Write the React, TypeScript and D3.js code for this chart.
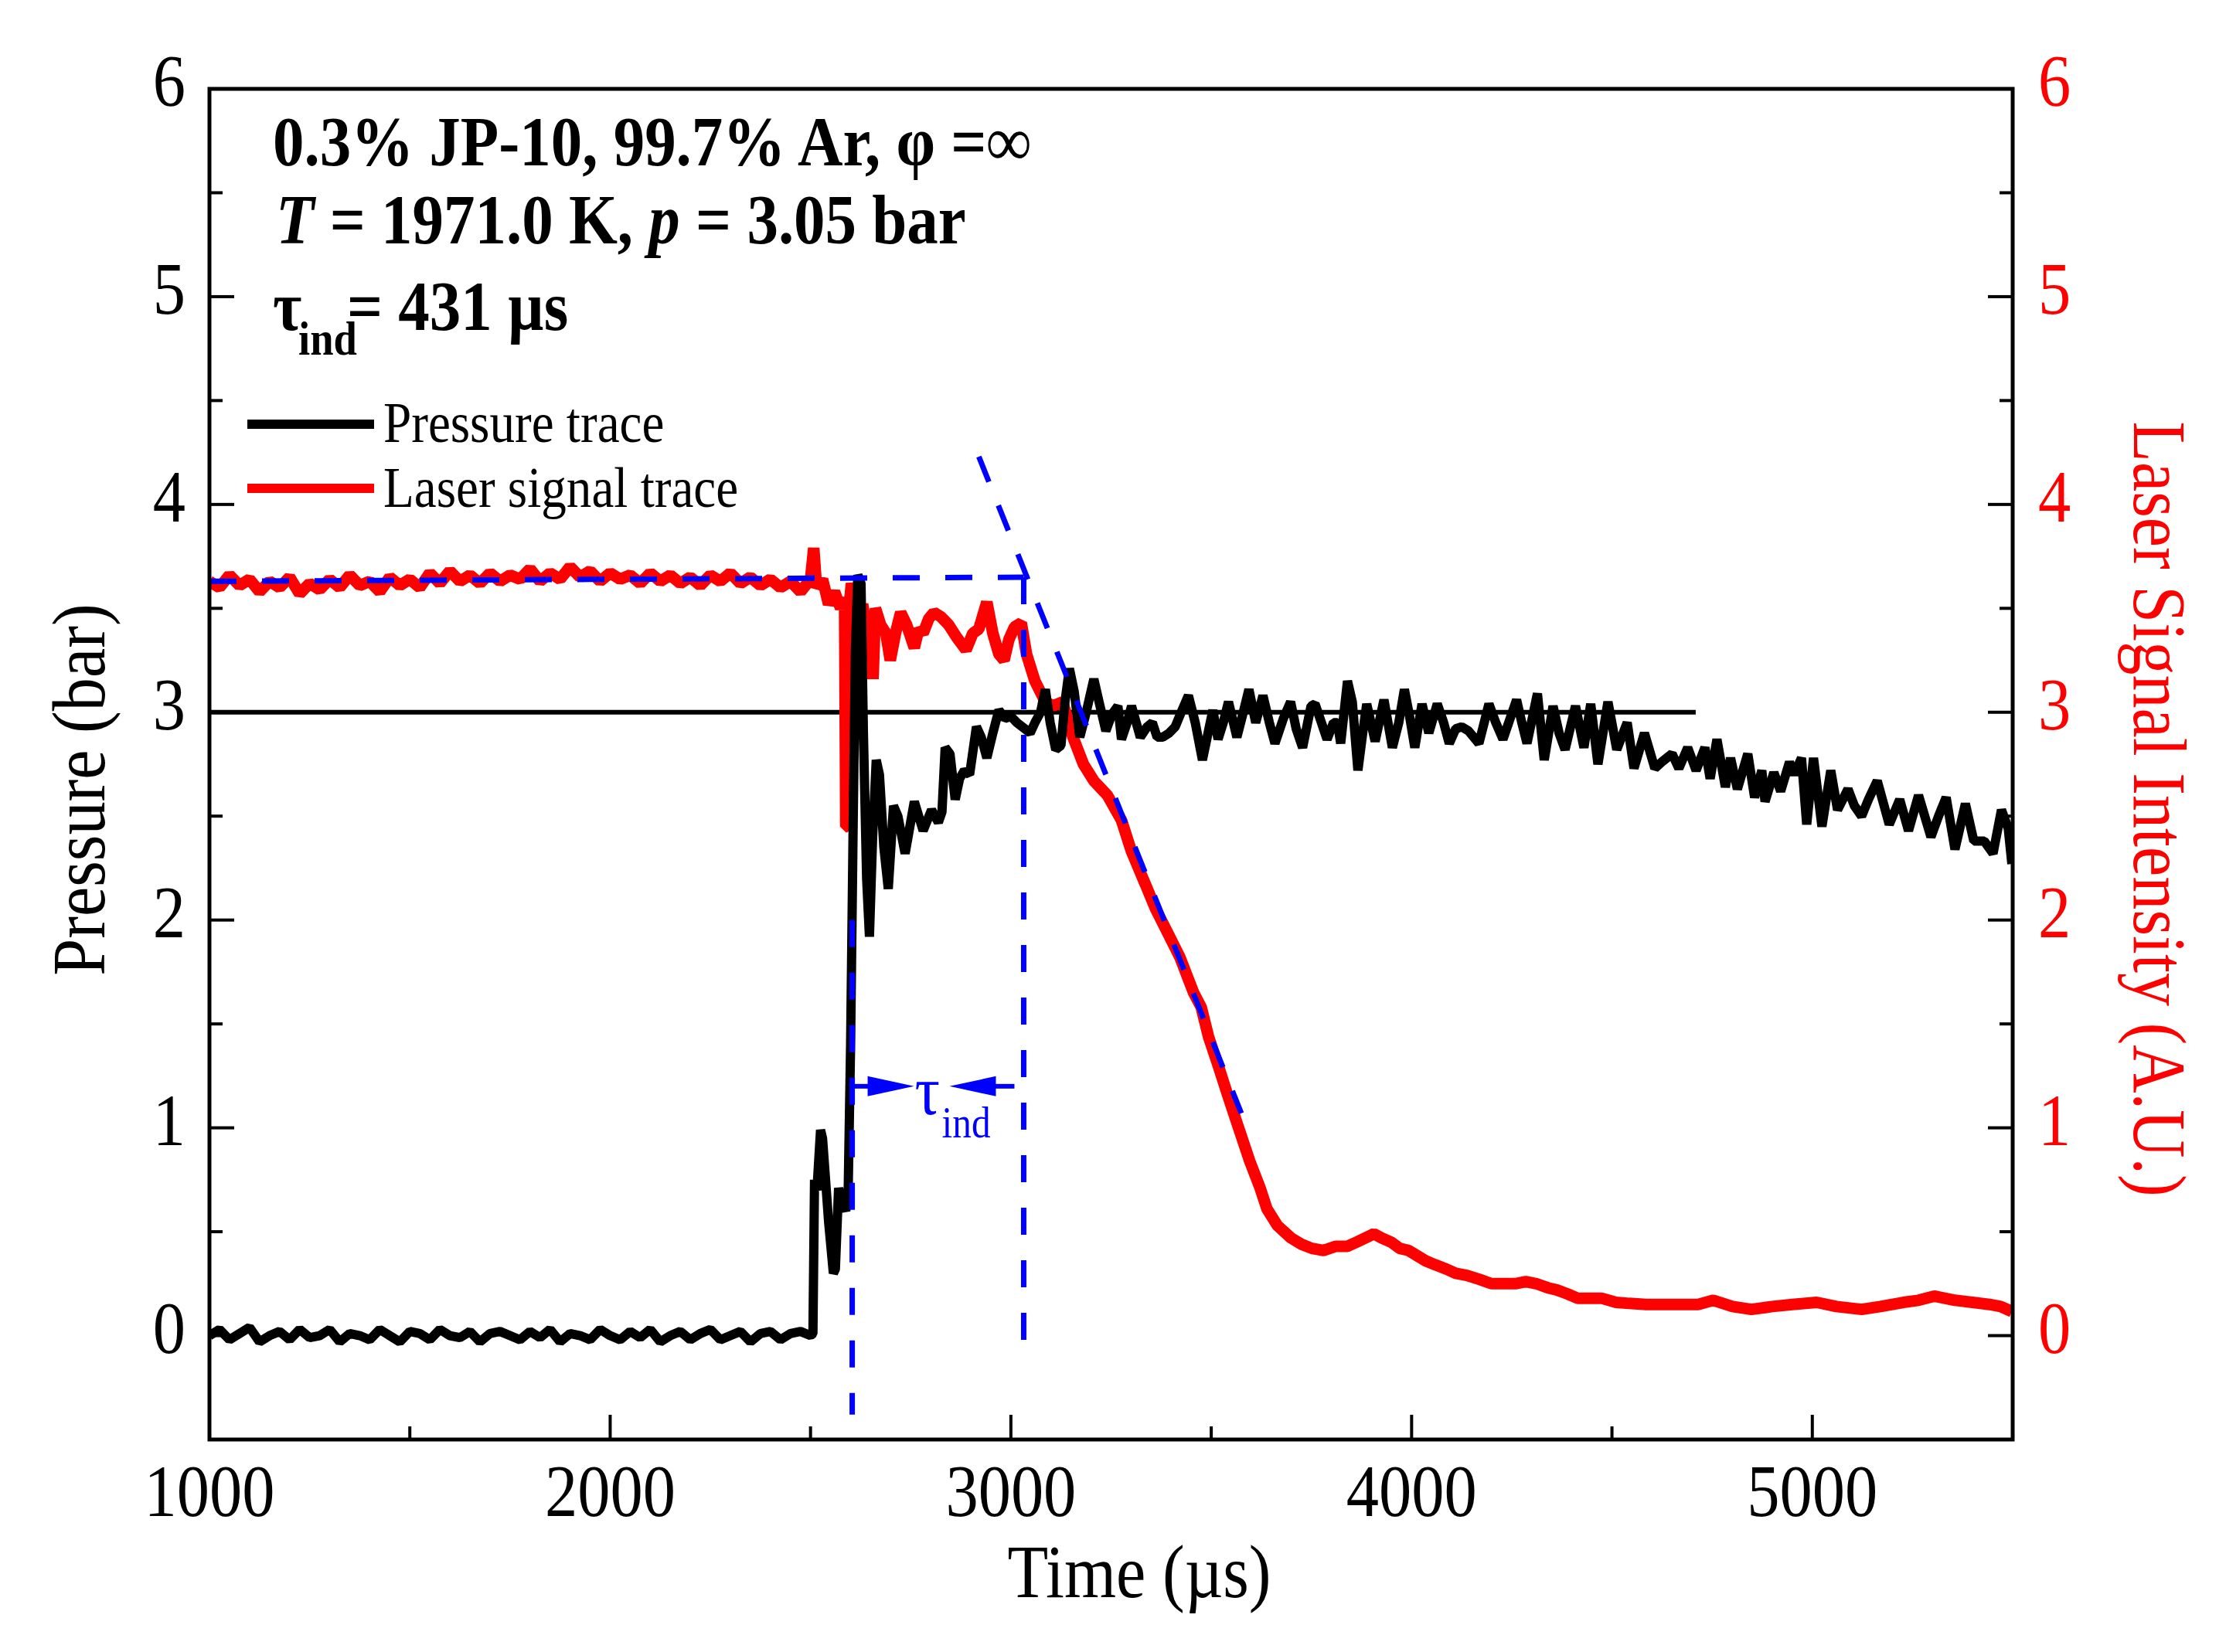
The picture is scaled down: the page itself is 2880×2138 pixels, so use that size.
import React from 'react';
import * as d3 from 'd3';

// ---- data ----
const xTicks = [1000, 2000, 3000, 4000, 5000];
const yTicks = [0, 1, 2, 3, 4, 5, 6];

// pressure trace (time µs, bar)
const pressureBaseline: [number, number][] = [
  [1000, 0.0], [1025, 0.03], [1050, -0.02], [1075, 0.01], [1100, 0.04], [1125, -0.03], [1150, 0.0],
  [1175, 0.02], [1200, -0.02], [1225, 0.03], [1250, -0.01], [1275, 0.0], [1300, 0.03], [1325, -0.03],
  [1350, 0.01], [1375, 0.0], [1400, -0.02], [1425, 0.03], [1450, 0.0], [1475, -0.03], [1500, 0.02],
  [1525, 0.01], [1550, -0.02], [1575, 0.03], [1600, 0.0], [1625, -0.01], [1650, 0.02], [1675, -0.03],
  [1700, 0.01], [1725, 0.02], [1750, 0.0], [1775, -0.02], [1800, 0.02], [1825, -0.01], [1850, 0.03],
  [1875, -0.03], [1900, 0.01], [1925, 0.0], [1950, -0.02], [1975, 0.03], [2000, 0.0], [2025, -0.02],
  [2050, 0.02], [2075, -0.01], [2100, 0.03], [2125, -0.03], [2150, 0.0], [2175, 0.02], [2200, -0.02],
  [2225, 0.01], [2250, 0.03], [2275, -0.02], [2300, 0.0], [2325, 0.02], [2350, -0.03], [2375, 0.01],
  [2400, 0.02], [2425, -0.02], [2450, 0.01], [2475, 0.02], [2500, 0.0],
];

const pressureShock: [number, number][] = [
  [2506, 0.01], [2510, 0.75], [2516, 0.7], [2525, 0.99], [2530, 0.95], [2545, 0.55], [2557, 0.3],
  [2562, 0.32], [2570, 0.71], [2578, 0.64], [2588, 0.6], [2594, 0.7], [2600, 1.4], [2606, 2.4],
  [2612, 3.3], [2618, 3.66], [2626, 3.62], [2632, 2.9], [2640, 2.2], [2647, 1.92], [2655, 2.4],
  [2664, 2.77], [2672, 2.7], [2683, 2.35], [2694, 2.15], [2707, 2.55], [2718, 2.5], [2736, 2.32],
  [2759, 2.57], [2770, 2.5], [2781, 2.43], [2802, 2.53], [2819, 2.47], [2828, 2.52], [2836, 2.83],
  [2848, 2.8], [2861, 2.58], [2872, 2.68], [2884, 2.72], [2897, 2.7], [2914, 2.93], [2926, 2.88],
  [2940, 2.78], [2955, 2.9], [2970, 3.01], [2985, 2.97], [3000, 2.98], [3015, 2.95], [3035, 2.92],
  [3048, 2.9], [3060, 2.95], [3074, 3.0], [3086, 3.11], [3098, 2.95], [3112, 2.82], [3125, 2.84],
  [3135, 3.05], [3146, 3.21], [3158, 3.1], [3172, 2.88], [3188, 3.0], [3207, 3.16], [3220, 3.05],
  [3237, 2.91], [3252, 2.99], [3267, 3.03], [3276, 2.87], [3290, 2.95], [3301, 3.03], [3323, 2.88],
  [3340, 2.93], [3353, 2.95], [3365, 2.88], [3379, 2.88], [3395, 2.9], [3410, 2.93], [3425, 3.0],
  [3443, 3.08], [3460, 2.95], [3478, 2.77], [3492, 2.9], [3504, 3.01], [3517, 2.87], [3530, 2.95],
  [3543, 3.05], [3564, 2.88], [3580, 3.0], [3594, 3.11], [3611, 2.95], [3629, 3.08], [3645, 2.95],
  [3659, 2.85], [3680, 2.97], [3698, 3.05], [3712, 2.92], [3728, 2.83], [3749, 3.03],
];

const pressurePlateau: [number, number][] = [
  [3759, 3.04], [3775, 2.95], [3789, 2.87], [3805, 2.95], [3815, 2.95], [3823, 2.85], [3840, 3.15],
  [3852, 3.05], [3866, 2.72], [3878, 2.9], [3888, 3.04], [3909, 2.86], [3931, 3.06], [3952, 2.83],
  [3968, 2.95], [3982, 3.11], [3995, 2.98], [4008, 2.83], [4026, 3.04], [4043, 2.9], [4064, 3.04],
  [4080, 2.95], [4094, 2.85], [4110, 2.92], [4125, 2.93], [4142, 2.91], [4168, 2.85], [4193, 3.04],
  [4210, 2.95], [4228, 2.87], [4262, 3.06], [4275, 2.95], [4288, 2.85], [4314, 3.09], [4331, 2.77],
  [4353, 3.03], [4368, 2.9], [4383, 2.82], [4409, 3.03], [4430, 2.83], [4447, 3.04], [4465, 2.75],
  [4490, 3.05], [4512, 2.82], [4538, 2.95], [4555, 2.73], [4581, 2.9], [4607, 2.73],
];

const pressureTail: [number, number][] = [
  [4624, 2.76], [4650, 2.8], [4667, 2.73], [4689, 2.83], [4710, 2.72], [4732, 2.83], [4745, 2.68],
  [4762, 2.87], [4783, 2.64], [4796, 2.78], [4813, 2.63], [4839, 2.8], [4856, 2.59], [4874, 2.72],
  [4882, 2.57], [4904, 2.71], [4921, 2.62], [4943, 2.76], [4955, 2.7], [4973, 2.78], [4986, 2.46],
  [5003, 2.78], [5024, 2.45], [5046, 2.72], [5063, 2.53], [5089, 2.63], [5105, 2.55], [5123, 2.5],
  [5140, 2.58], [5162, 2.67], [5192, 2.46], [5218, 2.58], [5240, 2.43], [5265, 2.6], [5296, 2.4],
  [5315, 2.5], [5334, 2.59], [5356, 2.34], [5382, 2.56], [5403, 2.38], [5429, 2.38], [5451, 2.32],
  [5472, 2.53], [5489, 2.44], [5498, 2.27],
];

// laser signal trace (time µs, A.U.)
const laserFlat: [number, number][] = [
  [1000, 3.63], [1025, 3.6], [1050, 3.66], [1075, 3.61], [1100, 3.64], [1125, 3.58], [1150, 3.63],
  [1175, 3.6], [1200, 3.65], [1225, 3.57], [1250, 3.62], [1275, 3.59], [1300, 3.64], [1325, 3.6],
  [1350, 3.66], [1375, 3.61], [1400, 3.63], [1425, 3.58], [1450, 3.65], [1475, 3.61], [1500, 3.64],
  [1525, 3.6], [1550, 3.67], [1575, 3.62], [1600, 3.68], [1625, 3.63], [1650, 3.66], [1675, 3.62],
  [1700, 3.67], [1725, 3.63], [1750, 3.66], [1775, 3.64], [1800, 3.69], [1825, 3.63], [1850, 3.67],
  [1875, 3.64], [1900, 3.7], [1925, 3.65], [1950, 3.68], [1975, 3.63], [2000, 3.67], [2025, 3.64],
  [2050, 3.66], [2075, 3.62], [2100, 3.67], [2125, 3.63], [2150, 3.66], [2175, 3.62], [2200, 3.65],
  [2225, 3.61], [2250, 3.66], [2275, 3.63], [2300, 3.67], [2325, 3.62], [2350, 3.65], [2375, 3.61],
  [2400, 3.64], [2425, 3.6], [2450, 3.63], [2475, 3.58], [2500, 3.64], [2508, 3.79], [2515, 3.6],
  [2530, 3.64], [2545, 3.52], [2560, 3.58], [2575, 3.5],
];

const laserDrop: [number, number][] = [
  [2585, 3.55], [2588, 2.45], [2592, 2.45], [2596, 3.5], [2602, 3.62], [2610, 3.55], [2620, 3.45],
  [2630, 3.52], [2640, 3.4], [2650, 3.45], [2656, 3.16], [2662, 3.5], [2675, 3.42], [2688, 3.38],
  [2699, 3.25], [2712, 3.38], [2725, 3.48], [2740, 3.42], [2759, 3.31], [2770, 3.4], [2781, 3.38],
  [2795, 3.45], [2808, 3.48], [2825, 3.46], [2845, 3.42], [2865, 3.36], [2888, 3.3], [2905, 3.38],
  [2920, 3.4], [2940, 3.53], [2955, 3.38], [2970, 3.28], [2983, 3.25], [2995, 3.35], [3009, 3.41],
  [3026, 3.43], [3039, 3.28], [3060, 3.15], [3086, 3.05], [3105, 3.03], [3129, 3.05], [3155, 2.88],
  [3181, 2.75], [3207, 2.67], [3241, 2.6], [3276, 2.48], [3301, 2.33], [3336, 2.17], [3362, 2.05],
  [3396, 1.92], [3422, 1.82], [3456, 1.65], [3475, 1.58], [3493, 1.44], [3519, 1.29], [3544, 1.14],
  [3570, 0.99], [3596, 0.84], [3622, 0.71], [3639, 0.61], [3665, 0.53], [3699, 0.47],
];

const laserTail: [number, number][] = [
  [3725, 0.44], [3751, 0.42], [3780, 0.41], [3811, 0.43], [3840, 0.43], [3863, 0.45], [3906, 0.49],
  [3925, 0.47], [3949, 0.45], [3970, 0.42], [3992, 0.41], [4035, 0.36], [4060, 0.34], [4087, 0.32],
  [4110, 0.3], [4138, 0.29], [4170, 0.27], [4199, 0.25], [4230, 0.25], [4259, 0.25], [4285, 0.26],
  [4311, 0.25], [4340, 0.23], [4362, 0.22], [4390, 0.2], [4414, 0.18], [4445, 0.18], [4474, 0.18],
  [4510, 0.16], [4543, 0.155], [4585, 0.15], [4629, 0.15], [4670, 0.15], [4715, 0.15], [4753, 0.17],
  [4801, 0.14], [4848, 0.126], [4900, 0.14], [4950, 0.15], [5011, 0.16], [5060, 0.14], [5123, 0.126],
  [5170, 0.14], [5227, 0.16], [5265, 0.17], [5304, 0.19], [5330, 0.18], [5356, 0.17], [5400, 0.16],
  [5442, 0.15], [5470, 0.14], [5498, 0.116],
];

// guide lines used to mark the induction time
const refPressure = { from: 1000, to: 4709, value: 3.0 };
const baseGuide: [number, number][] = [[1000, 3.63], [3032, 3.65]];
const slopeGuide: [number, number][] = [[2920, 4.23], [3575, 1.07]];
const onsetGuide: [number, number][] = [[2604, 2.0], [2604, -0.38]];
const endGuide: [number, number][] = [[3032, 3.65], [3032, -0.06]];
const tauLevel = 1.2;

const W = 2880;
const H = 2138;
const FONT = "'Liberation Serif', 'Times New Roman', Times, serif";
const SQ = 0.88; // text in the reference is slightly condensed

const Txt: React.FC<{
  x: number; y: number; size: number; rotate?: number; anchor?: string;
  fill?: string; weight?: string; sq?: number; children: React.ReactNode;
}> = ({ x, y, size, rotate = 0, anchor = 'start', fill = '#000', weight = 'normal', sq = SQ, children }) => (
  <text
    transform={`translate(${x},${y}) rotate(${rotate}) scale(${sq},1)`}
    textAnchor={anchor}
    fontSize={size}
    fontFamily={FONT}
    fontWeight={weight}
    fill={fill}
  >
    {children}
  </text>
);

const App: React.FC = () => {
  const x = d3.scaleLinear().domain([1000, 5500]).range([271, 2604]);
  const y = d3.scaleLinear().domain([-0.5, 6]).range([1863, 115]);
  const [x0, x1] = x.range();
  const [yb, yt] = y.range();

  const line = d3.line<[number, number]>().x(d => x(d[0])).y(d => y(d[1]));
  const pressure = [...pressureBaseline, ...pressureShock, ...pressurePlateau, ...pressureTail];
  const laser = [...laserFlat, ...laserDrop, ...laserTail];

  const xMinor = d3.range(1500, 5501, 1000);
  const yMinor = d3.range(0.5, 6, 1);

  const ay = y(tauLevel);
  const xa = x(onsetGuide[0][0]);
  const xb = x(endGuide[0][0]);

  return (
    <svg width={W} height={H} style={{ position: 'absolute', left: 0, top: 0, background: '#fff' }}>
      <defs>
        <clipPath id="plot">
          <rect x={x0} y={yt} width={x1 - x0} height={yb - yt} />
        </clipPath>
      </defs>
      <rect x={0} y={0} width={W} height={H} fill="#fff" />

      <g clipPath="url(#plot)">
        <line x1={x(refPressure.from)} x2={x(refPressure.to)} y1={y(refPressure.value)} y2={y(refPressure.value)}
          stroke="#000" strokeWidth={6} />
        <path d={line(laser) || ''} fill="none" stroke="#ff0000" strokeWidth={15} strokeLinejoin="bevel" />
        <path d={line(pressure) || ''} fill="none" stroke="#000" strokeWidth={12} strokeLinejoin="bevel" />
        {[baseGuide, slopeGuide, onsetGuide, endGuide].map((g, i) => (
          <path key={i} d={line(g) || ''} fill="none" stroke="#0000ff" strokeWidth={7} strokeDasharray="35 33" />
        ))}
      </g>

      {/* induction time arrows */}
      <g fill="#0000ff" stroke="none">
        <rect x={xa} y={ay - 3} width={24} height={6} />
        <polygon points={`${xa + 20},${ay - 13} ${xa + 80},${ay} ${xa + 20},${ay + 13}`} />
        <rect x={xb - 38} y={ay - 3} width={26} height={6} />
        <polygon points={`${xb - 36},${ay - 13} ${xb - 96},${ay} ${xb - 36},${ay + 13}`} />
      </g>
      <Txt x={xa + 81} y={ay + 36} size={92} fill="#0000ff">τ</Txt>
      <Txt x={xa + 116} y={ay + 66} size={56} fill="#0000ff">ind</Txt>

      {/* frame */}
      <rect x={x0} y={yt} width={x1 - x0} height={yb - yt} fill="none" stroke="#000" strokeWidth={5} />

      {/* x ticks (bottom, inward) */}
      {xTicks.map(t => (
        <g key={t}>
          <line x1={x(t)} x2={x(t)} y1={yb} y2={yb - 32} stroke="#000" strokeWidth={4} />
          <Txt x={x(t)} y={1962} size={96} anchor="middle">{t}</Txt>
        </g>
      ))}
      {xMinor.map(t => (
        <line key={t} x1={x(t)} x2={x(t)} y1={yb} y2={yb - 17} stroke="#000" strokeWidth={4} />
      ))}

      {/* y ticks left and right */}
      {yTicks.map(v => (
        <g key={v}>
          <line x1={x0} x2={x0 + 32} y1={y(v)} y2={y(v)} stroke="#000" strokeWidth={4} />
          <line x1={x1} x2={x1 - 32} y1={y(v)} y2={y(v)} stroke="#000" strokeWidth={4} />
          <Txt x={240} y={y(v) + 22} size={96} anchor="end">{v}</Txt>
          <Txt x={2637} y={y(v) + 22} size={96} fill="#ff0000">{v}</Txt>
        </g>
      ))}
      {yMinor.map(v => (
        <g key={v}>
          <line x1={x0} x2={x0 + 17} y1={y(v)} y2={y(v)} stroke="#000" strokeWidth={4} />
          <line x1={x1} x2={x1 - 17} y1={y(v)} y2={y(v)} stroke="#000" strokeWidth={4} />
        </g>
      ))}

      {/* axis titles */}
      <Txt x={1474} y={2067} size={98} anchor="middle">Time (µs)</Txt>
      <Txt x={135} y={1022} size={98} rotate={-90} anchor="middle">Pressure (bar)</Txt>
      <Txt x={2761} y={1047} size={98} rotate={90} anchor="middle" fill="#ff0000">Laser Signal Intensity (A.U.)</Txt>

      {/* conditions */}
      <Txt x={353} y={214} size={92} weight="bold">0.3% JP-10, 99.7% Ar, φ =∞</Txt>
      <Txt x={357} y={315} size={92} weight="bold">
        <tspan fontStyle="italic">T</tspan>{' = 1971.0 K, '}<tspan fontStyle="italic">p</tspan>{' = 3.05 bar'}
      </Txt>
      <Txt x={353} y={427} size={92} weight="bold">τ</Txt>
      <Txt x={386} y={459} size={62} weight="bold">ind</Txt>
      <Txt x={449} y={427} size={92} weight="bold">= 431 µs</Txt>

      {/* legend */}
      <line x1={320} x2={484} y1={549} y2={549} stroke="#000" strokeWidth={12} />
      <Txt x={496} y={572} size={74}>Pressure trace</Txt>
      <line x1={320} x2={484} y1={632} y2={632} stroke="#ff0000" strokeWidth={12} />
      <Txt x={496} y={656} size={74}>Laser signal trace</Txt>
    </svg>
  );
};

export default App;
